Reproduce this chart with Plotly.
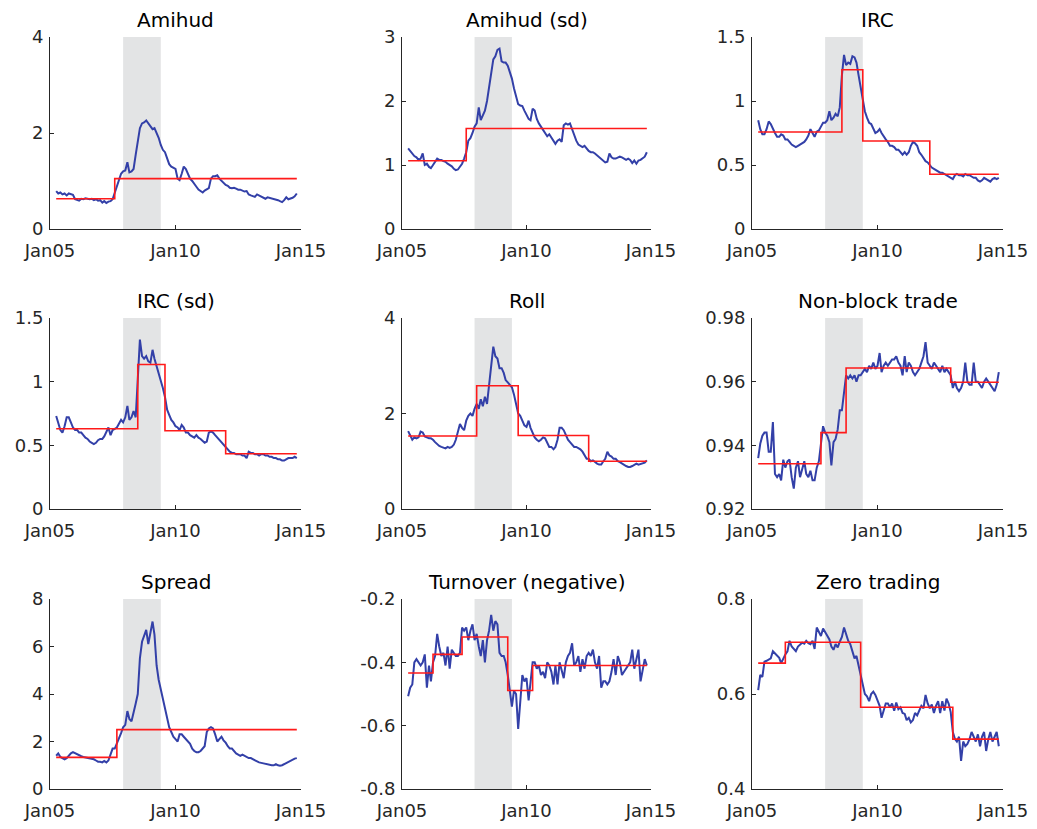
import pandas as pd
import plotly.graph_objects as go

# ---------------- data ----------------
dates = pd.date_range(start="2005-04-01", periods=116, freq="MS")

titles = ["Amihud", "Amihud (sd)", "IRC", "IRC (sd)", "Roll", "Non-block trade",
          "Spread", "Turnover (negative)", "Zero trading"]

amihud = [0.79, 0.74, 0.76, 0.72, 0.74, 0.70, 0.74, 0.73, 0.71,
          0.62, 0.60, 0.59, 0.63, 0.62, 0.64, 0.63, 0.62, 0.63, 0.60, 0.62, 0.59,
          0.60, 0.55, 0.58, 0.54, 0.57, 0.58, 0.62, 0.75, 0.92, 1.05, 1.15, 1.20,
          1.22, 1.39, 1.18, 1.20, 1.25, 1.55, 1.85, 2.10, 2.20, 2.22, 2.26, 2.20,
          2.12, 2.08, 2.10, 2.00, 1.90, 1.75, 1.65, 1.60, 1.45, 1.35, 1.30, 1.28,
          1.25, 1.05, 1.02, 1.15, 1.30, 1.25, 1.15, 1.05, 1.00, 0.95, 0.88, 0.82,
          0.78, 0.76, 0.80, 0.82, 0.85, 1.05, 1.10, 1.10, 1.12, 1.05, 1.00, 0.95,
          0.92, 0.90, 0.86, 0.85, 0.86, 0.84, 0.82, 0.82, 0.80, 0.78, 0.79, 0.72,
          0.70, 0.68, 0.67, 0.72, 0.70, 0.68, 0.65, 0.63, 0.66, 0.65, 0.64, 0.62,
          0.62, 0.60, 0.58, 0.56, 0.60, 0.66, 0.62, 0.63, 0.65, 0.68, 0.74]

amihud_sd = [1.26, 1.22, 1.17, 1.14, 1.12, 1.08, 1.10, 1.18, 1.00,
             1.02, 0.97, 0.95, 1.00, 1.06, 1.10, 1.08, 1.08, 1.06, 1.05, 1.02, 1.00,
             0.98, 0.94, 0.92, 0.93, 0.97, 1.02, 1.10, 1.20, 1.38, 1.42, 1.50, 1.60,
             1.65, 1.90, 1.70, 1.78, 1.85, 2.00, 2.20, 2.45, 2.65, 2.70, 2.80, 2.82,
             2.62, 2.60, 2.60, 2.55, 2.45, 2.35, 2.20, 2.05, 1.95, 1.93, 1.92, 1.85,
             1.78, 1.72, 1.70, 1.88, 1.85, 1.72, 1.65, 1.60, 1.55, 1.50, 1.45, 1.48,
             1.42, 1.38, 1.33, 1.38, 1.40, 1.36, 1.62, 1.65, 1.63, 1.65, 1.55, 1.45,
             1.38, 1.32, 1.30, 1.28, 1.30, 1.25, 1.22, 1.20, 1.20, 1.18, 1.15, 1.12,
             1.10, 1.06, 1.04, 1.05, 1.18, 1.12, 1.10, 1.10, 1.12, 1.13, 1.12, 1.10,
             1.08, 1.10, 1.08, 1.03, 1.07, 1.02, 1.07, 1.08, 1.10, 1.13, 1.20]

irc = [0.85, 0.78, 0.74, 0.74, 0.78, 0.84, 0.82, 0.78, 0.75,
       0.72, 0.72, 0.74, 0.73, 0.70, 0.70, 0.68, 0.66, 0.65, 0.64, 0.65, 0.66,
       0.67, 0.68, 0.70, 0.73, 0.78, 0.75, 0.72, 0.76, 0.77, 0.80, 0.83, 0.83,
       0.85, 0.92, 0.85, 0.87, 0.90, 0.88, 0.95, 1.20, 1.36, 1.28, 1.30, 1.29,
       1.35, 1.34, 1.30, 1.20, 1.10, 1.00, 0.92, 0.87, 0.83, 0.82, 0.78, 0.75,
       0.76, 0.78, 0.75, 0.72, 0.70, 0.68, 0.65, 0.65, 0.64, 0.62, 0.62, 0.60,
       0.58, 0.60, 0.58, 0.60, 0.65, 0.68, 0.67, 0.65, 0.60, 0.58, 0.55, 0.53,
       0.52, 0.50, 0.48, 0.47, 0.46, 0.45, 0.44, 0.44, 0.43, 0.42, 0.41, 0.40,
       0.39, 0.42, 0.43, 0.42, 0.42, 0.41, 0.43, 0.42, 0.42, 0.41, 0.40, 0.40,
       0.38, 0.37, 0.38, 0.40, 0.39, 0.38, 0.37, 0.39, 0.40, 0.39, 0.40]

irc_sd = [0.73, 0.68, 0.62, 0.60, 0.65, 0.72, 0.72, 0.68, 0.64,
          0.62, 0.62, 0.60, 0.60, 0.58, 0.56, 0.55, 0.53, 0.52, 0.51, 0.52, 0.54,
          0.55, 0.55, 0.57, 0.60, 0.64, 0.58, 0.62, 0.63, 0.64, 0.67, 0.70, 0.68,
          0.72, 0.81, 0.70, 0.72, 0.77, 0.72, 1.00, 1.33, 1.20, 1.18, 1.20, 1.16,
          1.15, 1.25, 1.18, 1.12, 1.08, 1.00, 0.95, 0.88, 0.78, 0.74, 0.70, 0.68,
          0.65, 0.64, 0.62, 0.66, 0.64, 0.60, 0.60, 0.58, 0.57, 0.56, 0.58, 0.56,
          0.55, 0.53, 0.52, 0.53, 0.60, 0.61, 0.60, 0.58, 0.56, 0.54, 0.52, 0.50,
          0.48, 0.46, 0.45, 0.44, 0.44, 0.43, 0.43, 0.43, 0.42, 0.42, 0.40, 0.45,
          0.44, 0.44, 0.43, 0.43, 0.42, 0.43, 0.43, 0.42, 0.42, 0.41, 0.41, 0.40,
          0.40, 0.39, 0.39, 0.38, 0.38, 0.39, 0.40, 0.40, 0.40, 0.41, 0.40]

roll = [1.63, 1.55, 1.45, 1.50, 1.48, 1.50, 1.62, 1.60, 1.52,
        1.50, 1.48, 1.48, 1.45, 1.40, 1.35, 1.32, 1.30, 1.28, 1.27, 1.30, 1.28,
        1.30, 1.35, 1.45, 1.60, 1.78, 1.70, 1.65, 1.85, 1.95, 2.00, 1.95, 2.10,
        2.20, 2.10, 2.30, 2.15, 2.35, 2.20, 2.60, 3.00, 3.40, 3.20, 3.15, 2.95,
        2.95, 2.85, 2.70, 2.65, 2.60, 2.55, 2.40, 2.20, 2.00, 1.95, 1.85, 1.75,
        1.72, 1.85, 1.70, 1.60, 1.50, 1.45, 1.42, 1.45, 1.50, 1.48, 1.40, 1.30,
        1.30, 1.25, 1.30, 1.45, 1.70, 1.70, 1.65, 1.55, 1.45, 1.40, 1.35, 1.30,
        1.30, 1.28, 1.25, 1.20, 1.12, 1.05, 1.05, 1.00, 1.02, 0.98, 0.95, 0.93,
        0.93, 1.00, 1.05, 1.20, 1.12, 1.10, 1.05, 1.05, 1.00, 0.98, 0.95, 0.93,
        0.90, 0.88, 0.88, 0.90, 0.92, 0.95, 0.93, 0.94, 0.95, 0.97, 1.02]

nonblock = [0.936, 0.9405, 0.943, 0.944, 0.944, 0.938, 0.938, 0.9473, 0.931,
            0.930, 0.931, 0.929, 0.9355, 0.933, 0.935, 0.9355, 0.930, 0.9264, 0.933, 0.935, 0.930,
            0.933, 0.935, 0.931, 0.930, 0.932, 0.929, 0.929, 0.933, 0.935, 0.940, 0.946, 0.944,
            0.943, 0.941, 0.9337, 0.941, 0.942, 0.945, 0.951, 0.951, 0.956, 0.962, 0.961, 0.962,
            0.961, 0.962, 0.960, 0.962, 0.962, 0.963, 0.964, 0.963, 0.965, 0.964, 0.966, 0.964,
            0.965, 0.969, 0.963, 0.965, 0.966, 0.965, 0.966, 0.967, 0.967, 0.968, 0.966, 0.965,
            0.962, 0.968, 0.963, 0.966, 0.965, 0.963, 0.962, 0.963, 0.964, 0.966, 0.968, 0.9724,
            0.966, 0.965, 0.964, 0.966, 0.965, 0.964, 0.963, 0.965, 0.963, 0.964, 0.963, 0.962,
            0.958, 0.960, 0.958, 0.957, 0.958, 0.960, 0.966, 0.960, 0.959, 0.959, 0.966, 0.960,
            0.960, 0.959, 0.958, 0.960, 0.961, 0.960, 0.959, 0.958, 0.957, 0.959, 0.963]

spread = [1.40, 1.50, 1.35, 1.30, 1.25, 1.30, 1.40, 1.50, 1.55,
          1.50, 1.45, 1.40, 1.38, 1.35, 1.33, 1.32, 1.30, 1.28, 1.25, 1.20, 1.15,
          1.15, 1.12, 1.18, 1.12, 1.20, 1.45, 1.70, 1.70, 1.90, 2.10, 2.35, 2.60,
          2.70, 3.28, 2.95, 2.85, 3.30, 3.60, 4.00, 5.50, 6.20, 6.50, 6.70, 6.10,
          6.60, 7.05, 6.50, 5.20, 4.60, 4.20, 3.80, 3.50, 3.10, 2.60, 2.40, 2.20,
          2.10, 2.00, 2.30, 2.30, 2.20, 2.10, 2.00, 1.90, 1.70, 1.60, 1.55, 1.55,
          1.60, 1.70, 1.80, 2.40, 2.55, 2.60, 2.55, 2.30, 2.00, 2.10, 2.20, 2.05,
          1.95, 1.80, 1.70, 1.70, 1.60, 1.50, 1.45, 1.40, 1.45, 1.40, 1.35, 1.30,
          1.30, 1.25, 1.20, 1.15, 1.12, 1.10, 1.08, 1.05, 1.05, 1.00, 1.00, 1.00,
          1.05, 1.00, 0.98, 1.00, 1.05, 1.10, 1.15, 1.20, 1.25, 1.28, 1.30]

turnover = [-0.507, -0.48, -0.47, -0.40, -0.39, -0.40, -0.41, -0.40, -0.375,
            -0.48, -0.41, -0.46, -0.40, -0.38, -0.31, -0.35, -0.38, -0.37, -0.41, -0.35, -0.42,
            -0.36, -0.37, -0.38, -0.38, -0.37, -0.29, -0.30, -0.29, -0.33, -0.30, -0.28, -0.33,
            -0.31, -0.35, -0.38, -0.33, -0.40, -0.33, -0.30, -0.25, -0.30, -0.27, -0.28, -0.37,
            -0.38, -0.38, -0.40, -0.44, -0.50, -0.54, -0.49, -0.50, -0.61, -0.52, -0.44, -0.46,
            -0.45, -0.52, -0.46, -0.40, -0.40, -0.42, -0.41, -0.44, -0.43, -0.45, -0.40, -0.41,
            -0.43, -0.47, -0.41, -0.47, -0.40, -0.43, -0.45, -0.40, -0.38, -0.37, -0.34, -0.41,
            -0.40, -0.38, -0.43, -0.39, -0.42, -0.38, -0.37, -0.38, -0.36, -0.40, -0.42, -0.38,
            -0.48, -0.46, -0.46, -0.47, -0.46, -0.43, -0.39, -0.44, -0.38, -0.40, -0.44, -0.43,
            -0.42, -0.41, -0.40, -0.36, -0.42, -0.39, -0.36, -0.46, -0.42, -0.39, -0.41]

zero_trading = [0.608, 0.640, 0.636, 0.668, 0.670, 0.672, 0.675, 0.690, 0.685,
                0.680, 0.676, 0.665, 0.676, 0.683, 0.690, 0.712, 0.700, 0.695, 0.690, 0.700, 0.705,
                0.708, 0.706, 0.712, 0.707, 0.705, 0.712, 0.695, 0.740, 0.730, 0.722, 0.738, 0.730,
                0.724, 0.715, 0.700, 0.693, 0.705, 0.698, 0.710, 0.720, 0.740, 0.728, 0.712, 0.705,
                0.690, 0.675, 0.680, 0.660, 0.640, 0.615, 0.600, 0.595, 0.585, 0.600, 0.605, 0.598,
                0.585, 0.575, 0.550, 0.568, 0.580, 0.580, 0.572, 0.580, 0.565, 0.582, 0.568, 0.572,
                0.560, 0.558, 0.545, 0.550, 0.540, 0.545, 0.560, 0.555, 0.565, 0.575, 0.570, 0.598,
                0.580, 0.570, 0.578, 0.560, 0.575, 0.585, 0.560, 0.585, 0.565, 0.590, 0.580, 0.562,
                0.520, 0.505, 0.500, 0.510, 0.459, 0.500, 0.490, 0.495, 0.505, 0.520, 0.510, 0.500,
                0.515, 0.490, 0.510, 0.520, 0.480, 0.505, 0.520, 0.500, 0.510, 0.520, 0.490]

# regime means (red step lines): break dates and levels
amihud_breaks = ["2007-08-01"];                              amihud_levels = [0.63, 1.05]
amihud_sd_breaks = ["2007-08-01"];                           amihud_sd_levels = [1.066, 1.57]
irc_breaks = ["2008-08-01", "2009-06-01", "2012-02-01"];     irc_levels = [0.758, 1.244, 0.687, 0.428]
irc_sd_breaks = ["2008-07-01", "2009-08-01", "2012-01-01"];  irc_sd_levels = [0.63, 1.135, 0.615, 0.434]
roll_breaks = ["2008-01-01", "2009-09-01", "2012-07-01"];    roll_levels = [1.53, 2.58, 1.54, 1.00]
nonblock_breaks = ["2007-10-01", "2008-10-01", "2012-12-01"]; nonblock_levels = [0.9342, 0.944, 0.9643, 0.9598]
spread_breaks = ["2007-09-01"];                              spread_levels = [1.33, 2.50]
turnover_breaks = ["2006-04-01", "2007-06-01", "2009-04-01", "2010-04-01"]
turnover_levels = [-0.4335, -0.375, -0.32, -0.489, -0.41]
zero_breaks = ["2006-05-01", "2009-05-01", "2013-01-01"];    zero_levels = [0.665, 0.709, 0.572, 0.505]

recession_start = "2007-12-01"
recession_end = "2009-06-01"

x_tickvals = ["2005-01-01", "2010-01-01", "2015-01-01"]
x_ticktext = ["Jan05", "Jan10", "Jan15"]

y_ticks = [
    [0, 2, 4],
    [0, 1, 2, 3],
    [0, 0.5, 1, 1.5],
    [0, 0.5, 1, 1.5],
    [0, 2, 4],
    [0.92, 0.94, 0.96, 0.98],
    [0, 2, 4, 6, 8],
    [-0.8, -0.6, -0.4, -0.2],
    [0.4, 0.6, 0.8],
]

series = [amihud, amihud_sd, irc, irc_sd, roll, nonblock, spread, turnover, zero_trading]
breaks = [amihud_breaks, amihud_sd_breaks, irc_breaks, irc_sd_breaks, roll_breaks,
          nonblock_breaks, spread_breaks, turnover_breaks, zero_breaks]
levels = [amihud_levels, amihud_sd_levels, irc_levels, irc_sd_levels, roll_levels,
          nonblock_levels, spread_levels, turnover_levels, zero_levels]

# ---------------- layout geometry ----------------
# page body has an 8px margin; the figure is sized to fit the 1037x829 window
OFF = 8
W, H = 1037 - 2 * OFF, 829 - 2 * OFF
col_px = [(50, 301), (402, 651), (752, 1003)]   # window pixel coords
row_px = [(37, 229), (318, 509), (599, 789)]

BLUE = "#3340a8"
RED = "#ff1a1a"
AXC = "#262626"
FONT = "DejaVu Sans"


def fmt(v):
    return "%g" % v


fig = go.Figure()
annotations = []
shapes = []

for i in range(9):
    r, c = divmod(i, 3)
    ax = "" if i == 0 else str(i + 1)
    xd = [(col_px[c][0] - OFF) / W, (col_px[c][1] - OFF) / W]
    yd = [1 - (row_px[r][1] - OFF) / H, 1 - (row_px[r][0] - OFF) / H]

    shapes.append(dict(type="rect", xref="x" + ax, yref="y" + ax + " domain",
                       x0=recession_start, x1=recession_end, y0=0, y1=1,
                       fillcolor="#e3e4e5", line=dict(width=0), layer="below"))

    fig.add_trace(go.Scatter(x=dates, y=series[i], mode="lines",
                             line=dict(color=BLUE, width=2),
                             xaxis="x" + ax, yaxis="y" + ax, showlegend=False))

    sx = [dates[0]] + [pd.Timestamp(b) for b in breaks[i]] + [dates[-1]]
    sy = list(levels[i]) + [levels[i][-1]]
    fig.add_trace(go.Scatter(x=sx, y=sy, mode="lines", line_shape="hv",
                             line=dict(color=RED, width=1.6),
                             xaxis="x" + ax, yaxis="y" + ax, showlegend=False))

    yt = y_ticks[i]
    common = dict(showline=True, linecolor=AXC, linewidth=1, showgrid=False,
                  zeroline=False, ticks="inside", ticklen=4, tickwidth=1,
                  tickcolor=AXC, automargin=False,
                  tickfont=dict(family=FONT, size=18, color=AXC))
    fig.update_layout(**{
        "xaxis" + ax: dict(domain=xd, anchor="y" + ax, type="date",
                           range=["2005-01-01", "2015-01-01"],
                           tickvals=x_tickvals, ticktext=x_ticktext,
                           ticklabelstandoff=5, **common),
        "yaxis" + ax: dict(domain=yd, anchor="x" + ax,
                           range=[yt[0], yt[-1]], tickvals=yt,
                           ticktext=[fmt(v) for v in yt],
                           ticklabelstandoff=2, **common),
    })

    annotations.append(dict(text=titles[i], xref="paper", yref="paper",
                            x=(xd[0] + xd[1]) / 2, y=yd[1], xanchor="center",
                            yanchor="bottom", yshift=3, showarrow=False,
                            font=dict(family=FONT, size=20, color="black")))

fig.update_layout(width=W, height=H, margin=dict(l=0, r=0, t=0, b=0, pad=0,
                                                 autoexpand=False),
                  paper_bgcolor="white", plot_bgcolor="white",
                  annotations=annotations, shapes=shapes)

fig.write_html("out.html")
